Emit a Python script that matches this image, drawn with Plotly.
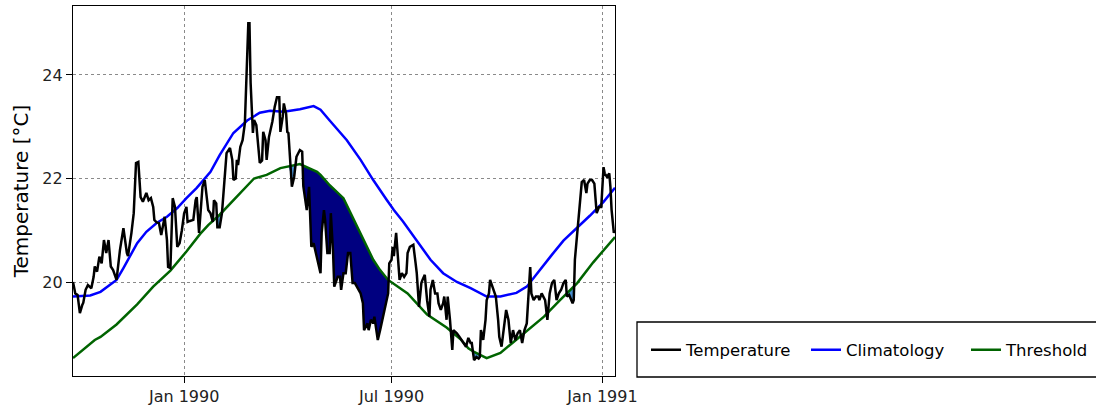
import numpy as np
import pandas as pd
import plotly.graph_objects as go

# ---------------- data ----------------
temp_dates = [
    "1989-09-26", "1989-09-28", "1989-09-30", "1989-10-02", "1989-10-04", "1989-10-05", "1989-10-07",
    "1989-10-09", "1989-10-12", "1989-10-14", "1989-10-15", "1989-10-17", "1989-10-19", "1989-10-21",
    "1989-10-23", "1989-10-25", "1989-10-27", "1989-10-29", "1989-10-31", "1989-11-03", "1989-11-06",
    "1989-11-09", "1989-11-12", "1989-11-13", "1989-11-16", "1989-11-18", "1989-11-20", "1989-11-22",
    "1989-11-24", "1989-11-26", "1989-11-29", "1989-12-01", "1989-12-03", "1989-12-05", "1989-12-06",
    "1989-12-08", "1989-12-10", "1989-12-12", "1989-12-15", "1989-12-17", "1989-12-18", "1989-12-20",
    "1989-12-22", "1989-12-24", "1989-12-26", "1989-12-28", "1989-12-30", "1990-01-01", "1990-01-03",
    "1990-01-04", "1990-01-06", "1990-01-09", "1990-01-11", "1990-01-12", "1990-01-14", "1990-01-16",
    "1990-01-17", "1990-01-19", "1990-01-20", "1990-01-22", "1990-01-24", "1990-01-26", "1990-01-27",
    "1990-01-29", "1990-01-30", "1990-02-01", "1990-02-03", "1990-02-05", "1990-02-07", "1990-02-10",
    "1990-02-12", "1990-02-13", "1990-02-15", "1990-02-16", "1990-02-17", "1990-02-19", "1990-02-21",
    "1990-02-23", "1990-02-26", "1990-02-27", "1990-02-28", "1990-03-02", "1990-03-03", "1990-03-05",
    "1990-03-07", "1990-03-08", "1990-03-10", "1990-03-11", "1990-03-13", "1990-03-14", "1990-03-16",
    "1990-03-19", "1990-03-21", "1990-03-23", "1990-03-25", "1990-03-26", "1990-03-28", "1990-03-29",
    "1990-03-31", "1990-04-01", "1990-04-02", "1990-04-04", "1990-04-05", "1990-04-07", "1990-04-09",
    "1990-04-12", "1990-04-14", "1990-04-15", "1990-04-17", "1990-04-18", "1990-04-20", "1990-04-22",
    "1990-04-24", "1990-04-26", "1990-04-28", "1990-04-30", "1990-05-01", "1990-05-03", "1990-05-04",
    "1990-05-06", "1990-05-08", "1990-05-09", "1990-05-11", "1990-05-12", "1990-05-15", "1990-05-17",
    "1990-05-18", "1990-05-20", "1990-05-22", "1990-05-24", "1990-05-26", "1990-05-28", "1990-05-30",
    "1990-06-01", "1990-06-04", "1990-06-06", "1990-06-07", "1990-06-10", "1990-06-11", "1990-06-13",
    "1990-06-15", "1990-06-16", "1990-06-18", "1990-06-19", "1990-06-21", "1990-06-23", "1990-06-25",
    "1990-06-26", "1990-06-28", "1990-06-29", "1990-07-01", "1990-07-02", "1990-07-03", "1990-07-05",
    "1990-07-06", "1990-07-08", "1990-07-10", "1990-07-12", "1990-07-14", "1990-07-15", "1990-07-17",
    "1990-07-20", "1990-07-22", "1990-07-23", "1990-07-25", "1990-07-27", "1990-07-28", "1990-07-30",
    "1990-08-01", "1990-08-03", "1990-08-04", "1990-08-06", "1990-08-08", "1990-08-10", "1990-08-11",
    "1990-08-13", "1990-08-15", "1990-08-16", "1990-08-18", "1990-08-19", "1990-08-21", "1990-08-23",
    "1990-08-24", "1990-08-27", "1990-08-29", "1990-08-31", "1990-09-02", "1990-09-04", "1990-09-06",
    "1990-09-08", "1990-09-09", "1990-09-11", "1990-09-13", "1990-09-15", "1990-09-16", "1990-09-17",
    "1990-09-19", "1990-09-21", "1990-09-22", "1990-09-24", "1990-09-25", "1990-09-27", "1990-09-29",
    "1990-09-30", "1990-10-02", "1990-10-03", "1990-10-05", "1990-10-07", "1990-10-09", "1990-10-11",
    "1990-10-13", "1990-10-15", "1990-10-17", "1990-10-19", "1990-10-21", "1990-10-23", "1990-10-25",
    "1990-10-27", "1990-10-30", "1990-10-31", "1990-11-02", "1990-11-04", "1990-11-06", "1990-11-07",
    "1990-11-09", "1990-11-12", "1990-11-14", "1990-11-16", "1990-11-18", "1990-11-20", "1990-11-22",
    "1990-11-24", "1990-11-26", "1990-11-28", "1990-11-30", "1990-12-01", "1990-12-03", "1990-12-06",
    "1990-12-07", "1990-12-08", "1990-12-10", "1990-12-12", "1990-12-14", "1990-12-16", "1990-12-18",
    "1990-12-19", "1990-12-21", "1990-12-23", "1990-12-25", "1990-12-27", "1990-12-29", "1990-12-31",
    "1991-01-02", "1991-01-03", "1991-01-05", "1991-01-07", "1991-01-08", "1991-01-09", "1991-01-11",
    "1991-01-12",
]
temp_vals = [
    20.00, 19.78, 19.75, 19.40, 19.55, 19.60, 19.85,
    19.94, 19.88, 20.10, 20.30, 20.20, 20.49, 20.36,
    20.81, 20.56, 20.81, 20.30, 20.23, 20.04, 20.62,
    21.04, 20.56, 20.50, 20.95, 21.33, 22.30, 22.32,
    21.64, 21.55, 21.72, 21.58, 21.62, 21.45, 21.20,
    21.15, 21.14, 20.91, 21.26, 20.81, 20.29, 20.27,
    21.62, 21.45, 20.68, 20.75, 21.00, 21.33, 21.45,
    21.16, 21.18, 21.20, 21.58, 21.64, 20.95, 21.52,
    21.84, 21.97, 21.74, 21.39, 21.33, 21.16, 21.58,
    21.52, 21.06, 21.06, 21.33, 21.93, 22.49, 22.59,
    22.36, 21.97, 22.00, 22.36, 22.26, 22.61, 22.74,
    23.07, 25.00, 25.00, 23.85, 22.88, 23.13, 23.03,
    22.61, 22.30, 22.35, 22.90, 22.74, 22.36, 22.80,
    23.10, 23.38, 23.57, 23.57, 22.90, 23.19, 23.45,
    23.25, 22.90, 22.88, 22.10, 21.84, 22.03, 22.42,
    22.55, 22.52, 21.85, 21.58, 21.39, 21.84, 20.68,
    20.75, 20.56, 20.36, 20.17, 20.95, 21.39, 21.20,
    20.56, 20.56, 21.33, 20.56, 19.91, 20.10, 20.10,
    19.85, 20.17, 20.17, 20.56, 20.56, 19.98, 19.98,
    19.91, 19.78, 19.59, 19.07, 19.20, 19.07, 19.27,
    19.20, 19.33, 19.07, 18.88, 19.07, 19.27, 19.46,
    19.59, 19.78, 20.36, 20.43, 20.68, 20.50, 20.95,
    20.68, 20.04, 20.17, 20.10, 20.17, 20.56, 20.68,
    20.72, 20.36, 20.17, 19.52, 19.98, 20.04, 20.14,
    19.65, 19.33, 19.85, 20.04, 19.78, 19.78, 19.59,
    19.46, 19.59, 19.72, 19.27, 19.72, 19.27, 18.69,
    19.07, 19.01, 18.95, 18.88, 18.82, 18.75, 18.92,
    18.82, 18.82, 18.49, 18.55, 18.52, 18.55, 19.07,
    18.88, 19.27, 19.65, 19.78, 20.04, 19.91, 19.78,
    19.72, 19.27, 18.94, 18.75, 19.07, 19.46, 19.27,
    18.82, 19.07, 18.88, 19.01, 19.07, 18.82, 19.07,
    19.20, 20.29, 19.78, 19.65, 19.72, 19.72, 19.65,
    19.78, 19.65, 19.27, 19.78, 19.98, 20.04, 19.65,
    19.78, 19.85, 19.98, 20.04, 19.72, 19.75, 19.59,
    19.65, 20.43, 20.95, 21.58, 21.93, 21.97, 21.72,
    21.90, 21.97, 21.97, 21.90, 21.33, 21.45, 21.45,
    22.22, 22.10, 22.03, 22.10, 21.84, 21.40, 20.95,
    21.00,
]

clim_dates = [
    "1989-09-26", "1989-10-11", "1989-10-20", "1989-10-28", "1989-11-03", "1989-11-09", "1989-11-15",
    "1989-11-21", "1989-11-29", "1989-12-08", "1989-12-17", "1989-12-26", "1990-01-03", "1990-01-12",
    "1990-01-24", "1990-02-01", "1990-02-13", "1990-02-25", "1990-03-08", "1990-03-17", "1990-03-29",
    "1990-04-12", "1990-04-24", "1990-04-30", "1990-05-08", "1990-05-17", "1990-05-23", "1990-06-04",
    "1990-06-15", "1990-06-27", "1990-07-03", "1990-07-11", "1990-07-23", "1990-08-04", "1990-08-15",
    "1990-08-27", "1990-09-08", "1990-09-22", "1990-10-04", "1990-10-18", "1990-10-27", "1990-11-05",
    "1990-11-17", "1990-11-28", "1990-12-10", "1990-12-21", "1991-01-02", "1991-01-12",
]
clim_vals = [
    19.72, 19.74, 19.81, 19.94, 20.04, 20.27, 20.52,
    20.75, 20.97, 21.14, 21.26, 21.43, 21.62, 21.82,
    22.13, 22.45, 22.88, 23.12, 23.27, 23.31, 23.29,
    23.34, 23.40, 23.33, 23.12, 22.90, 22.74, 22.36,
    21.97, 21.58, 21.39, 21.17, 20.81, 20.43, 20.17,
    20.00, 19.88, 19.72, 19.72, 19.79, 19.91, 20.17,
    20.50, 20.80, 21.05, 21.28, 21.55, 21.82,
]

thresh_dates = [
    "1989-09-26", "1989-10-08", "1989-10-15", "1989-10-20", "1989-11-03", "1989-11-21", "1989-12-05",
    "1989-12-20", "1990-01-03", "1990-01-15", "1990-01-22", "1990-02-01", "1990-02-16", "1990-02-25",
    "1990-03-03", "1990-03-14", "1990-03-26", "1990-04-12", "1990-04-18", "1990-04-27", "1990-04-30",
    "1990-05-08", "1990-05-20", "1990-06-01", "1990-06-10", "1990-06-15", "1990-06-21", "1990-06-28",
    "1990-07-15", "1990-08-01", "1990-08-18", "1990-08-30", "1990-09-06", "1990-09-11", "1990-09-22",
    "1990-10-04", "1990-10-16", "1990-10-27", "1990-11-11", "1990-11-25", "1990-12-10", "1990-12-24",
    "1991-01-02", "1991-01-12",
]
thresh_vals = [
    18.53, 18.75, 18.88, 18.94, 19.18, 19.57, 19.91,
    20.22, 20.59, 20.93, 21.10, 21.30, 21.65, 21.87,
    22.00, 22.07, 22.20, 22.28, 22.22, 22.13, 22.07,
    21.87, 21.62, 21.07, 20.68, 20.43, 20.23, 20.04,
    19.78, 19.37, 19.12, 18.90, 18.72, 18.65, 18.53,
    18.63, 18.85, 19.05, 19.33, 19.65, 19.98, 20.38,
    20.62, 20.87,
]

event_start = "1990-04-13"
event_end = "1990-06-30"

x_ticks = ["1990-01-01", "1990-07-01", "1991-01-01"]
x_tick_labels = ["Jan 1990", "Jul 1990", "Jan 1991"]
y_ticks = [20, 22, 24]

# ---------------- derived fill geometry ----------------
t_dt = pd.to_datetime(temp_dates)
th_dt = pd.to_datetime(thresh_dates)
t_num = t_dt.values.astype("datetime64[D]").astype(float)
th_num = th_dt.values.astype("datetime64[D]").astype(float)
temp_arr = np.array(temp_vals)
thr_at_t = np.interp(t_num, th_num, np.array(thresh_vals))
lower = np.minimum(temp_arr, thr_at_t)

FONT = "DejaVu Sans"
LW = 2.5
fig = go.Figure()

# all below-threshold periods (light blue)
fig.add_trace(go.Scatter(
    x=list(t_dt) + list(t_dt[::-1]),
    y=list(thr_at_t) + list(lower[::-1]),
    fill="toself", fillcolor="rgb(70,140,205)", mode="lines",
    line=dict(width=0), showlegend=False, hoverinfo="skip",
))
# the main event (navy)
m = (t_dt >= pd.Timestamp(event_start)) & (t_dt <= pd.Timestamp(event_end))
ed = t_dt[m]
fig.add_trace(go.Scatter(
    x=list(ed) + list(ed[::-1]),
    y=list(thr_at_t[m]) + list(lower[m][::-1]),
    fill="toself", fillcolor="#000080", mode="lines",
    line=dict(width=0), showlegend=False, hoverinfo="skip",
))

fig.add_trace(go.Scatter(x=th_dt, y=thresh_vals, mode="lines", name="Threshold",
                         line=dict(color="#006400", width=LW), legendrank=3))
fig.add_trace(go.Scatter(x=pd.to_datetime(clim_dates), y=clim_vals, mode="lines", name="Climatology",
                         line=dict(color="#0000ff", width=LW), legendrank=2))
fig.add_trace(go.Scatter(x=t_dt, y=temp_vals, mode="lines", name="Temperature",
                         line=dict(color="black", width=LW), legendrank=1))

L, R, T, B = 73, 615, 6, 376
W, H = 1096, 406
pw, ph = R - L, B - T

def px_x(p):
    return (p - L) / pw

def px_y(p):
    return (B - p) / ph

fig.update_layout(
    width=W, height=H,
    margin=dict(l=L, r=W - R, t=T, b=H - B, autoexpand=False),
    paper_bgcolor="white", plot_bgcolor="white",
    font=dict(family=FONT, size=16, color="black"),
    showlegend=True,
    legend=dict(
        orientation="h", x=px_x(646), xanchor="left", y=px_y(350), yanchor="middle",
        bgcolor="rgba(0,0,0,0)", borderwidth=0, font=dict(family=FONT, size=16.5),
        traceorder="normal", entrywidth=115, entrywidthmode="pixels",
    ),
    shapes=[dict(
        type="rect", xref="paper", yref="paper",
        x0=px_x(637), x1=px_x(1200), y0=px_y(377), y1=px_y(322),
        line=dict(color="black", width=1.3), fillcolor="white", layer="below",
    )],
)

fig.update_xaxes(
    range=["1989-09-26", "1991-01-12"],
    tickmode="array", tickvals=x_ticks, ticktext=x_tick_labels,
    showgrid=True, gridcolor="#8a8a8a", griddash="dot", gridwidth=1,
    showline=True, linecolor="black", linewidth=1.3, mirror=True,
    ticks="outside", ticklen=6, tickwidth=1.3, tickcolor="black",
    tickfont=dict(family=FONT, size=16, color="#222"), zeroline=False,
)
fig.update_yaxes(
    range=[18.184, 25.333],
    tickmode="array", tickvals=y_ticks, ticktext=[str(v) for v in y_ticks],
    showgrid=True, gridcolor="#8a8a8a", griddash="dot", gridwidth=1,
    showline=True, linecolor="black", linewidth=1.3, mirror=True,
    ticks="outside", ticklen=6, tickwidth=1.3, tickcolor="black",
    tickfont=dict(family=FONT, size=16, color="#222"), zeroline=False,
    title=dict(text="Temperature [°C]", font=dict(family=FONT, size=20, color="black"), standoff=8),
)

fig.write_html("out.html", config={"displayModeBar": False},
               post_script="document.body.style.margin='0';")
